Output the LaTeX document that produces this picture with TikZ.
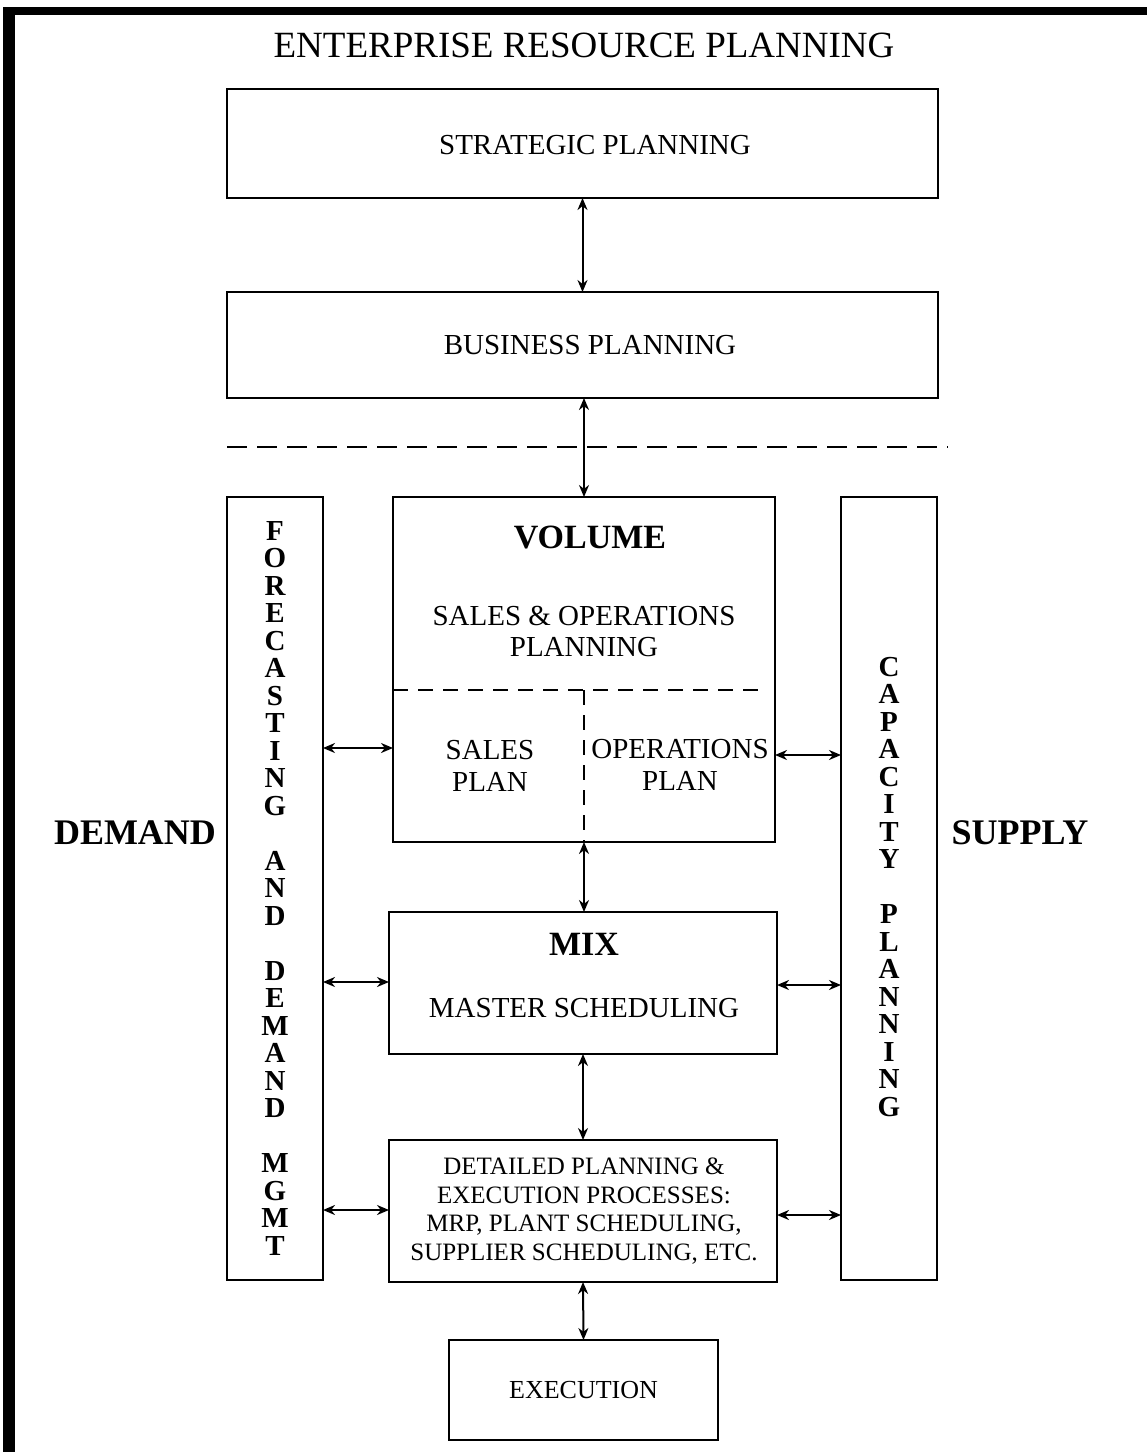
\documentclass[tikz,border=0pt]{standalone}
\usepackage{fontspec}
\setmainfont{Liberation Serif}
\usetikzlibrary{arrows.meta,calc}
\begin{document}
\begin{tikzpicture}[x=0.5pt,y=-0.5pt,
  box/.style={draw=black,line width=1.2pt,inner sep=0pt,outer sep=0pt},
  txt/.style={inner sep=0pt,align=center,font=\fontsize{14.5}{15.5}\selectfont},
  bigbold/.style={inner sep=0pt,font=\fontsize{17}{18}\selectfont\bfseries},
  vtxt/.style={inner sep=0pt,align=center,font=\fontsize{14.5}{13.75}\selectfont\bfseries},
  arr/.style={line width=1pt,{Stealth[length=6pt,width=5pt]}-{Stealth[length=6pt,width=5pt]}},
  sep/.style={line width=1.2pt,dash pattern=on 10pt off 5pt},
  sepin/.style={line width=1pt,dash pattern=on 7.5pt off 5pt}]
\useasboundingbox[fill=white] (0,0) rectangle (1147,1452);
% page border
\fill[black] (3,7) rectangle (15,1452);
\fill[black] (3,7) rectangle (1147,15);
% title
\node[inner sep=0pt,font=\fontsize{18.5}{20}\selectfont] (title) at (584,45) {ENTERPRISE RESOURCE PLANNING};
% main boxes
\node[box,minimum width=355.5pt,minimum height=54.5pt] (strat) at (582.5,143.5) {};
\node[txt] (stratT) at (595,145) {STRATEGIC PLANNING};
\node[box,minimum width=355.5pt,minimum height=53pt] (bus) at (582.5,345) {};
\node[txt] (busT) at (590,345) {BUSINESS PLANNING};
\node[box,minimum width=48pt,minimum height=391.5pt] (left) at (275,888.5) {};
\node[box,minimum width=48pt,minimum height=391.5pt] (right) at (889,888.5) {};
\node[box,minimum width=191pt,minimum height=172.5pt] (vol) at (584,669.5) {};
\node[box,minimum width=194pt,minimum height=71pt] (mix) at (583,983) {};
\node[box,minimum width=194pt,minimum height=71pt] (det) at (583,1211) {};
\node[box,minimum width=134.5pt,minimum height=50pt] (exe) at (583.5,1390) {};
% texts
\node[bigbold] (volT) at (590,537) {VOLUME};
\node[txt] (sop) at (584,631) {SALES \& OPERATIONS\\PLANNING};
\node[txt,font=\fontsize{14.5}{16}\selectfont] (sp) at (490,766) {SALES\\PLAN};
\node[txt,font=\fontsize{14.5}{16}\selectfont] (op) at (680,765) {OPERATIONS\\PLAN};
\node[bigbold] (mixT) at (584,944) {MIX};
\node[txt] (ms) at (584,1008) {MASTER SCHEDULING};
\node[txt,font=\fontsize{12.5}{14.25}\selectfont] (detT) at (584,1211) {DETAILED PLANNING \&\\EXECUTION PROCESSES:\\MRP, PLANT SCHEDULING,\\SUPPLIER SCHEDULING, ETC.};
\node[txt,font=\fontsize{13}{14}\selectfont] (exeT) at (exe.center) {EXECUTION};
\node[inner sep=0pt,font=\fontsize{18}{19}\selectfont\bfseries] (dem) at (135,833) {DEMAND};
\node[inner sep=0pt,font=\fontsize{18}{19}\selectfont\bfseries] (sup) at (1020,833) {SUPPLY};
\node[vtxt] (leftT) at (275,888) {F\\O\\R\\E\\C\\A\\S\\T\\I\\N\\G\\[13.75pt]A\\N\\D\\[13.75pt]D\\E\\M\\A\\N\\D\\[13.75pt]M\\G\\M\\T};
\node[vtxt] (rightT) at (889,887) {C\\A\\P\\A\\C\\I\\T\\Y\\[13.75pt]P\\L\\A\\N\\N\\I\\N\\G};
% separators
\draw[sep] (227,447) -- (948,447);
\coordinate (dv) at (584,690);
\draw[sepin] (vol.west |- dv) -- (765,690);
\draw[sepin] (dv) -- (vol.south);
% vertical arrows
\draw[arr] (strat.south) -- (bus.north);
\draw[arr] (bus.south -| vol.north) -- (vol.north);
\draw[arr] (vol.south) -- (vol.south |- mix.north);
\draw[arr] (mix.south) -- (det.north);
\draw[arr] (det.south) -- (exe.north);
% horizontal arrows
\coordinate (h1) at (0,748);
\coordinate (h2) at (0,755);
\coordinate (h3) at (0,982);
\coordinate (h4) at (0,985);
\coordinate (h5) at (0,1210);
\coordinate (h6) at (0,1215);
\draw[arr] (h1 -| left.east) -- (h1 -| vol.west);
\draw[arr] (h2 -| vol.east) -- (h2 -| right.west);
\draw[arr] (h3 -| left.east) -- (h3 -| mix.west);
\draw[arr] (h4 -| mix.east) -- (h4 -| right.west);
\draw[arr] (h5 -| left.east) -- (h5 -| det.west);
\draw[arr] (h6 -| det.east) -- (h6 -| right.west);
\end{tikzpicture}
\end{document}
